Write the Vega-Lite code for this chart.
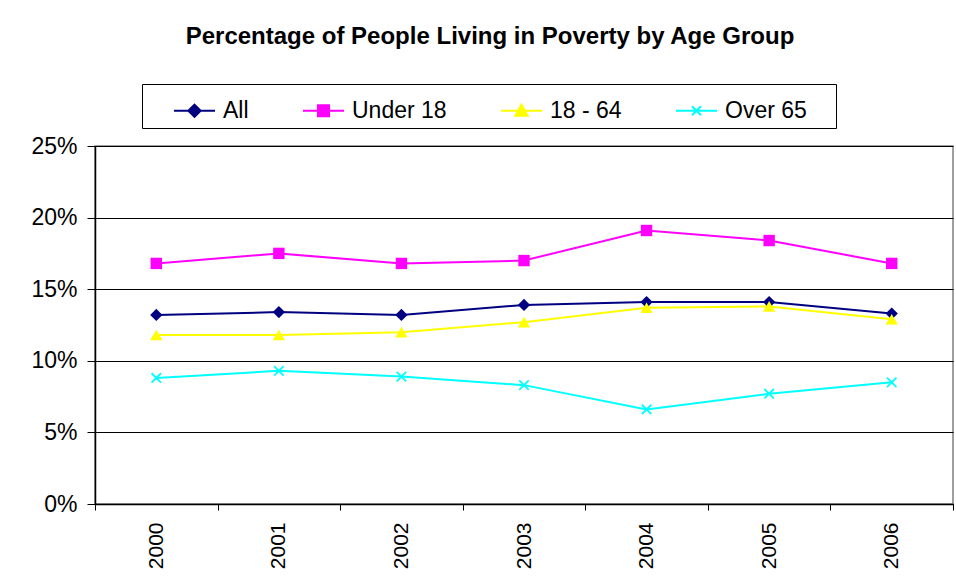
{
  "$schema": "https://vega.github.io/schema/vega-lite/v6.json",
  "width": 858,
  "height": 358,
  "autosize": {"type": "none"},
  "padding": {"left": 95, "top": 146, "right": 3, "bottom": 81},
  "background": "white",
  "title": {
    "text": "Percentage of People Living in Poverty by Age Group",
    "font": "Liberation Sans",
    "fontSize": 24,
    "fontWeight": "bold",
    "color": "black",
    "anchor": "middle",
    "frame": "group",
    "baseline": "alphabetic",
    "dx": -34,
    "offset": 16
  },
  "data": {
    "values": [
      {"year": "2000", "series": "All", "value": 13.2},
      {"year": "2001", "series": "All", "value": 13.4},
      {"year": "2002", "series": "All", "value": 13.2},
      {"year": "2003", "series": "All", "value": 13.9},
      {"year": "2004", "series": "All", "value": 14.1},
      {"year": "2005", "series": "All", "value": 14.1},
      {"year": "2006", "series": "All", "value": 13.3},
      {"year": "2000", "series": "Under 18", "value": 16.8},
      {"year": "2001", "series": "Under 18", "value": 17.5},
      {"year": "2002", "series": "Under 18", "value": 16.8},
      {"year": "2003", "series": "Under 18", "value": 17.0},
      {"year": "2004", "series": "Under 18", "value": 19.1},
      {"year": "2005", "series": "Under 18", "value": 18.4},
      {"year": "2006", "series": "Under 18", "value": 16.8},
      {"year": "2000", "series": "18 - 64", "value": 11.8},
      {"year": "2001", "series": "18 - 64", "value": 11.8},
      {"year": "2002", "series": "18 - 64", "value": 12.0},
      {"year": "2003", "series": "18 - 64", "value": 12.7},
      {"year": "2004", "series": "18 - 64", "value": 13.7},
      {"year": "2005", "series": "18 - 64", "value": 13.8},
      {"year": "2006", "series": "18 - 64", "value": 12.9},
      {"year": "2000", "series": "Over 65", "value": 8.8},
      {"year": "2001", "series": "Over 65", "value": 9.3},
      {"year": "2002", "series": "Over 65", "value": 8.9},
      {"year": "2003", "series": "Over 65", "value": 8.3},
      {"year": "2004", "series": "Over 65", "value": 6.6},
      {"year": "2005", "series": "Over 65", "value": 7.7},
      {"year": "2006", "series": "Over 65", "value": 8.5}
    ]
  },
  "encoding": {
    "x": {
      "field": "year",
      "type": "nominal",
      "bandPosition": 0.5,
      "scale": {"type": "band", "paddingInner": 0, "paddingOuter": 0},
      "axis": {
        "title": null,
        "labelAngle": -90,
        "labelFont": "Liberation Sans",
        "labelFontSize": 21,
        "labelColor": "black",
        "labelPadding": 12,
        "tickBand": "extent",
        "tickSize": 6,
        "tickColor": "black",
        "domainColor": "black",
        "domainWidth": 1.5,
        "grid": false
      }
    },
    "y": {
      "field": "value",
      "type": "quantitative",
      "scale": {"domain": [0, 25], "nice": false},
      "axis": {
        "title": null,
        "values": [0, 5, 10, 15, 20, 25],
        "labelExpr": "datum.value + '%'",
        "labelFont": "Liberation Sans",
        "labelFontSize": 23,
        "labelColor": "black",
        "labelPadding": 10,
        "tickSize": 8,
        "tickColor": "black",
        "domainColor": "black",
        "domainWidth": 1.5,
        "grid": true,
        "gridColor": "black",
        "gridWidth": 1
      }
    },
    "color": {
      "field": "series",
      "type": "nominal",
      "scale": {
        "domain": ["All", "Under 18", "18 - 64", "Over 65"],
        "range": ["#000080", "#FF00FF", "#FFFF00", "#00FFFF"]
      },
      "legend": {
        "orient": "none",
        "legendX": 47,
        "legendY": -62,
        "direction": "horizontal",
        "title": " ",
        "titleOrient": "left",
        "titlePadding": 26,
        "titleFontSize": 23,
        "strokeColor": "black",
        "padding": 5,
        "symbolSize": 1681,
        "labelFont": "Liberation Sans",
        "labelFontSize": 23,
        "labelColor": "black",
        "labelOffset": 7,
        "columnPadding": 50,
        "labelExpr": "datum.label == 'Over 65' ? datum.label + '\u00a0\u2800' : datum.label",
        "encode": {
          "symbols": {
            "update": {
              "shape": {"signal": "datum.value == 'All' ? 'M-1,0H1M0,-0.3L0.3,0L0,0.3L-0.3,0Z' : datum.value == 'Under 18' ? 'M-1,0H1M-0.27,-0.27H0.27V0.27H-0.27Z' : datum.value == '18 - 64' ? 'M-1,0H1M0,-0.3L0.3,0.24H-0.3Z' : 'M-1,0H1M-0.22,-0.22L0.22,0.22M-0.22,0.22L0.22,-0.22'"},
              "fill": {"signal": "scale('color', datum.value)"},
              "stroke": {"signal": "scale('color', datum.value)"},
              "strokeWidth": {"value": 2},
              "opacity": {"value": 1},
              "fillOpacity": {"value": 1}
            }
          }
        }
      }
    }
  },
  "layer": [
    {"mark": {"type": "line", "strokeWidth": 2}},
    {
      "transform": [{"filter": "datum.series == 'All'"}],
      "mark": {"type": "point", "shape": "diamond", "filled": true, "opacity": 1, "size": 150}
    },
    {
      "transform": [{"filter": "datum.series == 'Under 18'"}],
      "mark": {"type": "point", "shape": "square", "filled": true, "opacity": 1, "size": 130}
    },
    {
      "transform": [{"filter": "datum.series == '18 - 64'"}],
      "mark": {"type": "point", "shape": "triangle-up", "filled": true, "opacity": 1, "size": 150}
    },
    {
      "transform": [{"filter": "datum.series == 'Over 65'"}],
      "mark": {"type": "point", "shape": "M-1,-1L1,1M-1,1L1,-1", "filled": false, "strokeWidth": 1.8, "size": 90, "opacity": 1}
    }
  ],
  "config": {
    "view": {"stroke": "#808080", "strokeWidth": 1.5}
  }
}
